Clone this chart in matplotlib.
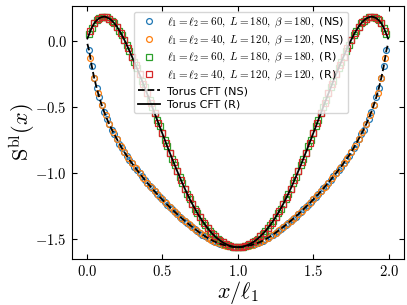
import numpy as np
import matplotlib
matplotlib.use("Agg")
import matplotlib.pyplot as plt
from matplotlib.ticker import FuncFormatter

plt.rcParams['mathtext.fontset'] = 'cm'

# ---- data ----
ell_a = 60
ell_b = 40

ns60 = [-0.075, -0.190, -0.282, -0.360, -0.428, -0.488, -0.541, -0.589, -0.632, -0.672,
        -0.709, -0.744, -0.779, -0.812, -0.843, -0.873, -0.901, -0.927, -0.953, -0.978,
        -1.002, -1.026, -1.050, -1.073, -1.095, -1.117, -1.139, -1.160, -1.180, -1.200,
        -1.220, -1.239, -1.258, -1.276, -1.294, -1.312, -1.329, -1.346, -1.362, -1.378,
        -1.394, -1.409, -1.424, -1.438, -1.452, -1.466, -1.478, -1.490, -1.501, -1.511,
        -1.520, -1.528, -1.535, -1.541, -1.547, -1.551, -1.555, -1.558, -1.560, -1.561,
        -1.560, -1.558, -1.555, -1.551, -1.547, -1.541, -1.535, -1.528, -1.520, -1.511,
        -1.501, -1.490, -1.478, -1.466, -1.452, -1.438, -1.424, -1.409, -1.394, -1.378,
        -1.362, -1.346, -1.329, -1.312, -1.294, -1.276, -1.258, -1.239, -1.220, -1.200,
        -1.180, -1.160, -1.139, -1.117, -1.095, -1.073, -1.050, -1.026, -1.002, -0.978,
        -0.953, -0.927, -0.901, -0.873, -0.843, -0.812, -0.779, -0.744, -0.709, -0.672,
        -0.632, -0.589, -0.541, -0.488, -0.428, -0.360, -0.282, -0.190, -0.075]

ns40 = [-0.130, -0.282, -0.395, -0.488, -0.566, -0.632, -0.691, -0.744, -0.796, -0.843,
        -0.887, -0.927, -0.966, -1.002, -1.038, -1.073, -1.106, -1.139, -1.170, -1.200,
        -1.230, -1.258, -1.285, -1.312, -1.338, -1.362, -1.386, -1.409, -1.431, -1.452,
        -1.472, -1.490, -1.506, -1.520, -1.532, -1.541, -1.549, -1.555, -1.559, -1.561,
        -1.559, -1.555, -1.549, -1.541, -1.532, -1.520, -1.506, -1.490, -1.472, -1.452,
        -1.431, -1.409, -1.386, -1.362, -1.338, -1.312, -1.285, -1.258, -1.230, -1.200,
        -1.170, -1.139, -1.106, -1.073, -1.038, -1.002, -0.966, -0.927, -0.887, -0.843,
        -0.796, -0.744, -0.691, -0.632, -0.566, -0.488, -0.395, -0.282, -0.130]

r60 = [0.048, 0.095, 0.130, 0.153, 0.169, 0.177, 0.180, 0.176, 0.166, 0.151,
       0.130, 0.105, 0.075, 0.041, 0.004, -0.036, -0.078, -0.121, -0.165, -0.210,
       -0.256, -0.303, -0.351, -0.400, -0.449, -0.499, -0.549, -0.599, -0.649, -0.699,
       -0.749, -0.798, -0.847, -0.895, -0.942, -0.988, -1.033, -1.077, -1.119, -1.160,
       -1.199, -1.236, -1.271, -1.304, -1.335, -1.364, -1.391, -1.416, -1.439, -1.460,
       -1.479, -1.496, -1.511, -1.524, -1.535, -1.544, -1.551, -1.556, -1.559, -1.560,
       -1.559, -1.556, -1.551, -1.544, -1.535, -1.524, -1.511, -1.496, -1.479, -1.460,
       -1.439, -1.416, -1.391, -1.364, -1.335, -1.304, -1.271, -1.236, -1.199, -1.160,
       -1.119, -1.077, -1.033, -0.988, -0.942, -0.895, -0.847, -0.798, -0.749, -0.699,
       -0.649, -0.599, -0.549, -0.499, -0.449, -0.400, -0.351, -0.303, -0.256, -0.210,
       -0.165, -0.121, -0.078, -0.036, 0.004, 0.041, 0.075, 0.105, 0.130, 0.151,
       0.166, 0.176, 0.180, 0.177, 0.169, 0.153, 0.130, 0.095, 0.048]

r40 = [0.072, 0.130, 0.162, 0.177, 0.179, 0.166, 0.141, 0.105, 0.058, 0.004,
       -0.057, -0.121, -0.188, -0.256, -0.327, -0.400, -0.474, -0.549, -0.624, -0.699,
       -0.774, -0.847, -0.919, -0.988, -1.055, -1.119, -1.180, -1.236, -1.288, -1.335,
       -1.378, -1.416, -1.450, -1.479, -1.504, -1.524, -1.540, -1.551, -1.558, -1.560,
       -1.558, -1.551, -1.540, -1.524, -1.504, -1.479, -1.450, -1.416, -1.378, -1.335,
       -1.288, -1.236, -1.180, -1.119, -1.055, -0.988, -0.919, -0.847, -0.774, -0.699,
       -0.624, -0.549, -0.474, -0.400, -0.327, -0.256, -0.188, -0.121, -0.057, 0.004,
       0.058, 0.105, 0.141, 0.166, 0.179, 0.177, 0.162, 0.130, 0.072]

# theory curve end values (near x=0 and x=2)
th_ns_edge = -0.025
th_r_edge = 0.015
th_edge_x = 0.005

xticks = [0.0, 0.5, 1.0, 1.5, 2.0]
yticks = [0.0, -0.5, -1.0, -1.5]

labels = [r'$\ell_1=\ell_2=60,\ L=180,\ \beta=180,$ (NS)',
          r'$\ell_1=\ell_2=40,\ L=120,\ \beta=120,$ (NS)',
          r'$\ell_1=\ell_2=60,\ L=180,\ \beta=180,$ (R)',
          r'$\ell_1=\ell_2=40,\ L=120,\ \beta=120,$ (R)',
          'Torus CFT (NS)', 'Torus CFT (R)']

# ---- plotting ----
x60 = np.arange(1, len(ns60) + 1) / ell_a
x40 = np.arange(1, len(ns40) + 1) / ell_b
xr60 = np.arange(1, len(r60) + 1) / ell_a
xr40 = np.arange(1, len(r40) + 1) / ell_b

x_th = np.concatenate([[th_edge_x], x60, [2 - th_edge_x]])
y_th_ns = np.concatenate([[th_ns_edge], ns60, [th_ns_edge]])
y_th_r = np.concatenate([[th_r_edge], r60, [th_r_edge]])

fig = plt.figure(figsize=(4.07, 3.05), dpi=100)
ax = fig.add_axes([0.1757, 0.1508, 0.8169, 0.8292])

ms = 4.2
mew = 0.9
ax.plot(x60, ns60, 'o', mfc='none', mec='#1f77b4', ms=ms, mew=mew, label=labels[0])
ax.plot(x40, ns40, 'o', mfc='none', mec='#ff7f0e', ms=ms, mew=mew, label=labels[1])
ax.plot(xr60, r60, 's', mfc='none', mec='#2ca02c', ms=ms, mew=mew, label=labels[2])
ax.plot(xr40, r40, 's', mfc='none', mec='#d62728', ms=ms, mew=mew, label=labels[3])
ax.plot(x_th, y_th_ns, '--', color='black', lw=1.3, label=labels[4])
ax.plot(x_th, y_th_r, '-', color='black', lw=1.3, label=labels[5])

ax.set_xlim(-0.1, 2.1)
ax.set_ylim(-1.65, 0.26)
ax.set_xticks(xticks)
ax.set_yticks(yticks)
fmt = FuncFormatter(lambda v, p: r'$%.1f$' % v)
ax.xaxis.set_major_formatter(fmt)
ax.yaxis.set_major_formatter(fmt)
ax.tick_params(direction='in', top=True, right=True, labelsize=10.5, length=3.5)

ax.set_xlabel(r'$x/\ell_1$', fontsize=16, labelpad=0)
ax.set_ylabel(r'$\mathrm{S}^{\mathrm{bl}}(x)$', fontsize=16, labelpad=-1)

ax.legend(loc='upper center', bbox_to_anchor=(0.51, 1.0), fontsize=8,
          handlelength=2.0, labelspacing=0.3, borderpad=0.35, handletextpad=0.6)

fig.savefig('out.png', dpi=100)
